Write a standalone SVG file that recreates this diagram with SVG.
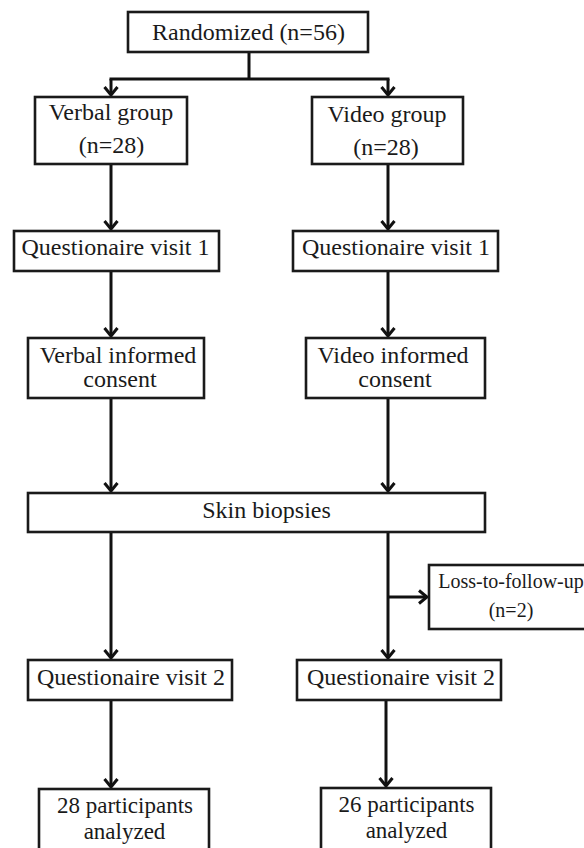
<svg xmlns="http://www.w3.org/2000/svg" width="584" height="848" viewBox="0 0 584 848">
<style>
.box{fill:#fff;stroke:#1a1a1a;stroke-width:2.6}
text{font-family:'Liberation Serif','DejaVu Serif',serif;font-size:24px;fill:#1a1a1a;text-anchor:middle}
.s{font-size:20px}
.f{font-size:23px}
.c{fill:none;stroke:#111;stroke-width:3}
</style>
<defs>
<marker id="ah" markerUnits="userSpaceOnUse" viewBox="-12 -8 14 16" refX="0" refY="0" markerWidth="14" markerHeight="16" orient="auto">
<path d="M-8,-6.5 L0,0 L-8,6.5" fill="none" stroke="#111" stroke-width="3" stroke-linejoin="miter"/>
</marker>
</defs>
<rect width="584" height="848" fill="#fff"/>
<g id="connectors">
<path class="c" d="M249,52 V79 M109.5,79 H389.5"/>
<path class="c" d="M111,79 V95" marker-end="url(#ah)"/>
<path class="c" d="M388,79 V95" marker-end="url(#ah)"/>
<path class="c" d="M111,164 V229" marker-end="url(#ah)"/>
<path class="c" d="M388,164 V229" marker-end="url(#ah)"/>
<path class="c" d="M111,271 V336" marker-end="url(#ah)"/>
<path class="c" d="M388,271 V336" marker-end="url(#ah)"/>
<path class="c" d="M111,398 V491" marker-end="url(#ah)"/>
<path class="c" d="M388,398 V491" marker-end="url(#ah)"/>
<path class="c" d="M111,532 V658" marker-end="url(#ah)"/>
<path class="c" d="M388,532 V658" marker-end="url(#ah)"/>
<path class="c" d="M388,597 H427" marker-end="url(#ah)"/>
<path class="c" d="M111,700 V787" marker-end="url(#ah)"/>
<path class="c" d="M386,700 V786" marker-end="url(#ah)"/>
</g>
<g id="randomized">
<rect class="box" x="128" y="12" width="240" height="40"/>
<text x="248.5" y="40">Randomized (n=56)</text>
</g>
<g id="verbal-group">
<rect class="box" x="35" y="97" width="152" height="67"/>
<text x="111" y="120">Verbal group</text>
<text x="111.5" y="153">(n=28)</text>
</g>
<g id="video-group">
<rect class="box" x="312" y="97" width="151" height="67"/>
<text x="387" y="122">Video group</text>
<text x="386" y="155">(n=28)</text>
</g>
<g id="q1-verbal">
<rect class="box" x="14" y="231" width="205" height="40"/>
<text x="115.5" y="255">Questionaire visit 1</text>
</g>
<g id="q1-video">
<rect class="box" x="293" y="231" width="205" height="40"/>
<text x="396" y="255">Questionaire visit 1</text>
</g>
<g id="verbal-consent">
<rect class="box" x="28" y="338" width="176" height="60"/>
<text x="118" y="363">Verbal informed</text>
<text x="120" y="387">consent</text>
</g>
<g id="video-consent">
<rect class="box" x="306" y="338" width="179" height="60"/>
<text x="393" y="363">Video informed</text>
<text x="395" y="387">consent</text>
</g>
<g id="skin-biopsies">
<rect class="box" x="28" y="493" width="457" height="39"/>
<text x="266.5" y="518">Skin biopsies</text>
</g>
<g id="loss">
<rect class="box" x="429" y="565" width="170" height="64"/>
<text class="s" x="511" y="588">Loss-to-follow-up</text>
<text class="s" x="511" y="617">(n=2)</text>
</g>
<g id="q2-verbal">
<rect class="box" x="28" y="660" width="204" height="40"/>
<text x="131" y="685">Questionaire visit 2</text>
</g>
<g id="q2-video">
<rect class="box" x="297" y="660" width="204" height="40"/>
<text x="401" y="685">Questionaire visit 2</text>
</g>
<g id="analyzed-verbal">
<rect class="box" x="39" y="789" width="170" height="80"/>
<text class="f" x="125" y="813">28 participants</text>
<text class="f" x="124.5" y="839">analyzed</text>
</g>
<g id="analyzed-video">
<rect class="box" x="321" y="788" width="170" height="80"/>
<text class="f" x="406.5" y="812">26 participants</text>
<text class="f" x="406.5" y="838">analyzed</text>
</g>
</svg>
